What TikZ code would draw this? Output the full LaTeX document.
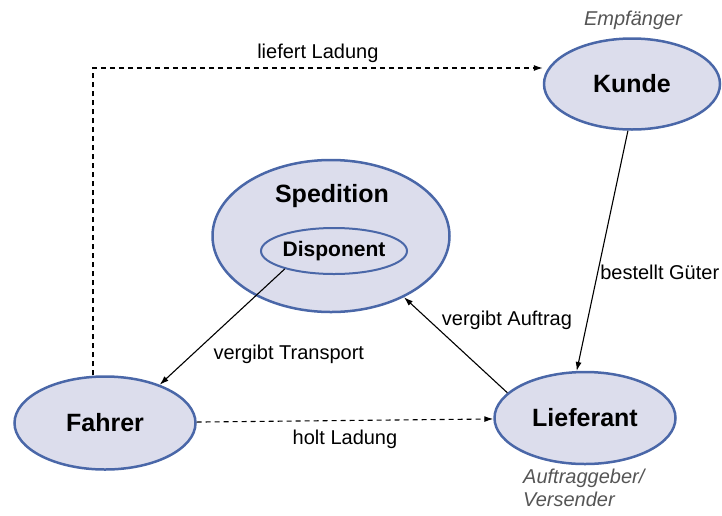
\documentclass[tikz,border=0pt]{standalone}
\usepackage{fontspec}
\setmainfont{Liberation Sans}
\usetikzlibrary{shapes.geometric,arrows.meta}
\definecolor{rand}{HTML}{4A67A8}
\definecolor{fuell}{HTML}{DCDDEC}
\definecolor{grautext}{HTML}{555555}
\begin{document}
\begin{tikzpicture}[x=1pt,y=-1pt,>={Latex[length=9pt,width=6pt]}]
      \useasboundingbox (0,0) rectangle (722,515);

      \begin{scope}[every node/.style={ellipse,draw=rand,fill=fuell,line width=2.5pt,inner sep=0pt,font=\fontsize{25}{30}\selectfont\bfseries}]
        \node[minimum width=237pt,minimum height=152pt] (1) at (331,236) {};
        \node[minimum width=146pt,minimum height=46pt,line width=2pt,font=\fontsize{21}{25}\selectfont\bfseries] (2) at (334,251) {Disponent};
        \node[minimum width=176pt,minimum height=91pt] (3) at (632,84)  {Kunde};
        \node[minimum width=181pt,minimum height=93pt] (4) at (105,423) {Fahrer};
        \node[minimum width=181pt,minimum height=92pt] (5) at (585,418) {Lieferant};
      \end{scope}

      \node[font=\fontsize{25}{30}\selectfont\bfseries] (6) at (332,196) {Spedition};

      \begin{scope}[every node/.style={text=grautext,font=\fontsize{20}{23}\selectfont\itshape}]
        \node (7) at (633,20) {Empfänger};
        \node[anchor=north west,align=left,inner sep=0pt] (8) at (523,469) {Auftraggeber/\\Versender};
      \end{scope}

      \coordinate (c) at (93,68);

      \begin{scope}[every node/.style={font=\fontsize{20}{24}\selectfont,inner sep=2pt}]

        \begin{scope}[every edge/.style={draw,line width=1.1pt}]
          \draw[->,line width=1.1pt,dash pattern=on 5pt off 4pt] (4.north -| c) -- (c) -- node[above=3pt] {liefert Ladung} (c -| 3.west);
          \path (4)     edge[->,dash pattern=on 5pt off 4pt] node[below=7pt] {holt Ladung} (5);
          \path (3.265) edge[->] node[pos=.59,anchor=west] {bestellt Güter} (5.100);
          \path (5.162) edge[->] node[pos=.755,anchor=west,xshift=10pt] {vergibt Auftrag} (1.320);
          \path (2.200) edge[->] node[pos=.63,anchor=north west,xshift=5pt,yshift=-1pt] {vergibt Transport} (4.35);
        \end{scope}
      \end{scope}

    \end{tikzpicture}
\end{document}
